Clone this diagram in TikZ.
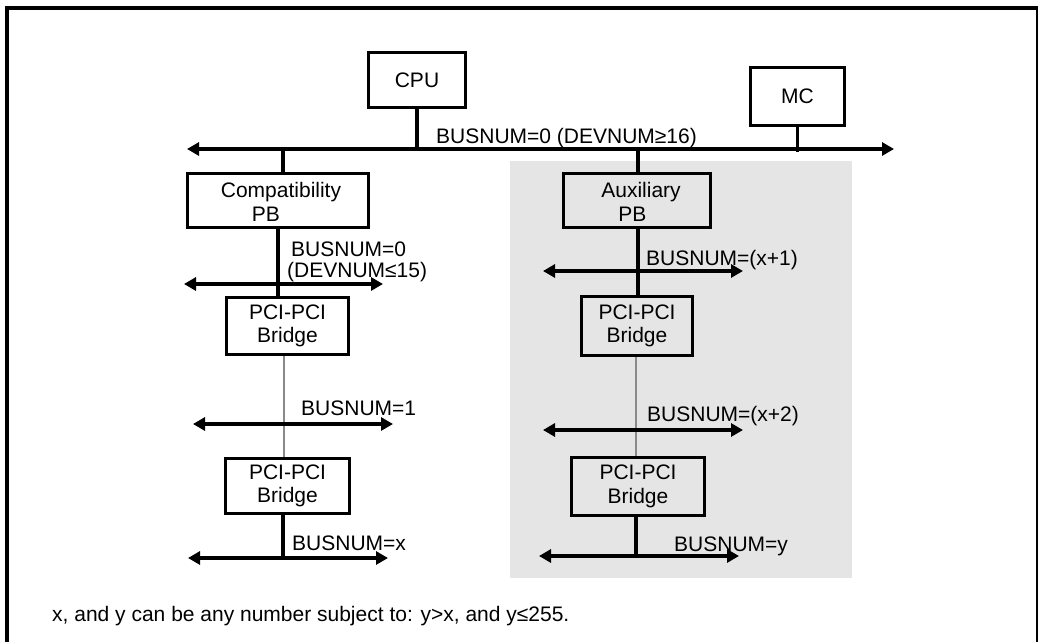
\documentclass[tikz,border=0pt]{standalone}
\usepackage{fontspec}
\setmainfont{Liberation Sans}
\usetikzlibrary{arrows.meta}
\definecolor{panelgray}{HTML}{E5E5E5}
\definecolor{wiregray}{HTML}{8A8A8A}
\begin{document}
\begin{tikzpicture}[x=1pt,y=-1pt,
  font=\fontsize{21}{23.5}\selectfont,
  box/.style={draw, line width=3pt, inner sep=0pt, align=center},
  bus/.style={line width=3.3pt, {Triangle[length=12pt,width=13pt]}-{Triangle[length=12pt,width=13pt]}},
  wire/.style={line width=3.3pt},
  gwire/.style={line width=2.6pt, draw=wiregray},
  lbl/.style={anchor=base west, inner sep=0pt},
  frame/.style={line width=3.6pt}]
\useasboundingbox (0,0) rectangle (1038,642);
% background panel
\fill[panelgray] (510,161) rectangle (852,578);
% frame
\draw[frame] (7,642) -- (7,8) -- (1038,8);
\draw[line width=1.8pt] (1037,8) -- (1037,642);

% boxes
\node[box, minimum width=97pt, minimum height=55pt] (cpu) at (417,80) {CPU};
\node[box, minimum width=94pt, minimum height=58pt] (mc) at (797.5,96.5) {MC};
\node[box, minimum width=181pt, minimum height=54pt] (compat) at (278,200.5) {};
\node[align=left, inner sep=0pt] (compattext) at (281,202) {Compatibility\\\hspace*{31pt}PB};
\node[box, minimum width=147pt, minimum height=54pt] (aux) at (637,200.5) {};
\node[align=left, inner sep=0pt] (auxtext) at (641,202) {Auxiliary\\\hspace*{17pt}PB};
\node[box, minimum width=122pt, minimum height=57pt] (pciL1) at (287.5,326) {PCI-PCI\\Bridge};
\node[box, minimum width=124pt, minimum height=55pt] (pciL2) at (287.5,486) {PCI-PCI\\Bridge};
\node[box, minimum width=111pt, minimum height=59pt] (pciR1) at (637,326) {PCI-PCI\\Bridge};
\node[box, minimum width=133pt, minimum height=58pt] (pciR2) at (638,486.5) {PCI-PCI\\Bridge};

% bus end points
\coordinate (b0L) at (187,149);  \coordinate (b0R) at (894,149);
\coordinate (bL0L) at (184,284); \coordinate (bL0R) at (383,284);
\coordinate (bL1L) at (193,424); \coordinate (bL1R) at (393,424);
\coordinate (bLxL) at (188,558); \coordinate (bLxR) at (388,558);
\coordinate (bR1L) at (543,271); \coordinate (bR1R) at (743,271);
\coordinate (bR2L) at (543,430); \coordinate (bR2R) at (743,430);
\coordinate (bRyL) at (539,556); \coordinate (bRyR) at (739,556);

% connectors
\draw[wire] (cpu.south) -- (cpu.south |- b0L);
\draw[wire] (mc.south) -- ([yshift=-3pt]mc.south |- b0L);
\draw[wire] ([xshift=5pt]compat.north) -- ([xshift=5pt]compat.north |- b0L);
\draw[wire] (compat.south) -- (compat.south |- pciL1.north);
\draw[gwire] ([xshift=-3.5pt]pciL1.south) -- ([xshift=-3.5pt]pciL1.south |- pciL2.north);
\draw[wire] ([xshift=-4.5pt]pciL2.south) -- ([xshift=-4.5pt]pciL2.south |- bLxL);
\draw[wire] ([xshift=1pt]aux.north) -- ([xshift=1pt]aux.north |- b0L);
\draw[wire] ([xshift=1pt]aux.south) -- ([xshift=1pt]aux.south |- pciR1.north);
\draw[gwire] ([xshift=-1pt]pciR1.south) -- ([xshift=-1pt]pciR1.south |- pciR2.north);
\draw[wire] ([xshift=-2pt]pciR2.south) -- ([xshift=-2pt]pciR2.south |- bRyL);

% buses
\draw[bus] (b0L) -- (b0R);
\draw[bus] (bL0L) -- (bL0R);
\draw[bus] (bL1L) -- (bL1R);
\draw[bus] (bLxL) -- (bLxR);
\draw[bus] (bR1L) -- (bR1R);
\draw[bus] (bR2L) -- (bR2R);
\draw[bus] (bRyL) -- (bRyR);

% labels
\node[lbl] (l0) at (436,143.5) {BUSNUM=0 (DEVNUM≥16)};
\node[lbl] (lL0a) at (291,256.5) {BUSNUM=0};
\node[lbl] (lL0b) at (287,277) {(DEVNUM≤15)};
\node[lbl] (lL1) at (301,415) {BUSNUM=1};
\node[lbl] (lLx) at (292,550) {BUSNUM=x};
\node[lbl] (lR1) at (646,265) {BUSNUM=(x+1)};
\node[lbl] (lR2) at (647,421.5) {BUSNUM=(x+2)};
\node[lbl] (lRy) at (674,551.5) {BUSNUM=y};
\node[lbl] (note) at (52,621.5) {x, and y can be any number subject to: y>x, and y≤255.};
\end{tikzpicture}
\end{document}
